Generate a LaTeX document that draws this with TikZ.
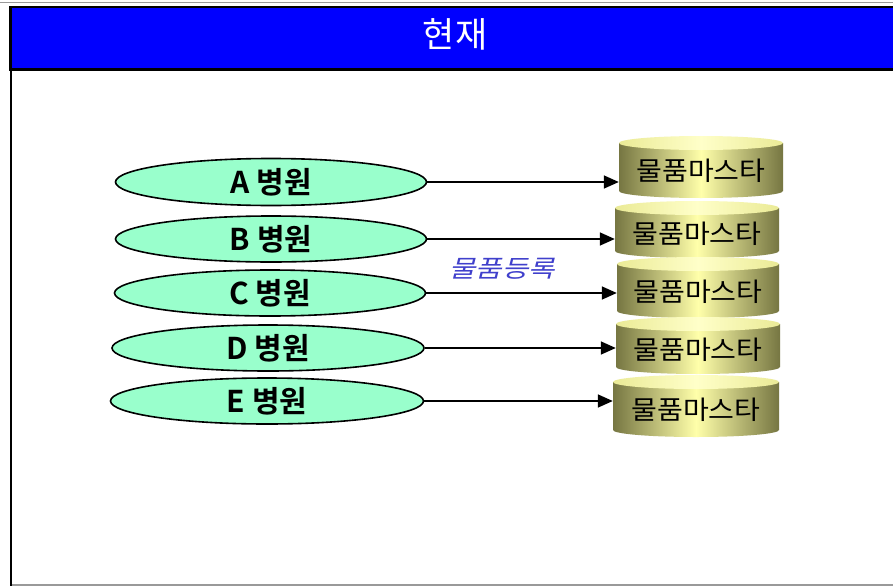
\documentclass[tikz,border=0pt]{standalone}
\usepackage{fontspec}
\setmainfont{Noto Sans CJK KR}
\newfontfamily\krfont{Noto Sans CJK KR}
\newfontfamily\krwide[FakeStretch=1.08]{Noto Sans CJK KR}
\newfontfamily\krbold{Noto Sans CJK KR Bold}
\newfontfamily\krit[FakeSlant=0.25,FakeStretch=1.2]{Noto Sans CJK KR}
\usetikzlibrary{shapes.geometric,arrows.meta}
\definecolor{titleblue}{RGB}{0,0,255}
\definecolor{mint}{RGB}{153,255,204}
\definecolor{cyldark}{RGB}{118,118,66}
\definecolor{cyllight}{RGB}{255,255,170}
\definecolor{cyltop}{RGB}{255,255,165}
\definecolor{labelblue}{RGB}{64,64,204}
\tikzset{
  hosp/.style={ellipse, draw=black, line width=1.6pt, fill=mint, inner sep=0pt,
    font=\krbold\fontsize{30}{30}\selectfont},
  conn/.style={line width=1.6pt, -{Triangle[length=15pt,width=13pt]}},
  cyltext/.style={font=\krwide\fontsize{26}{26}\selectfont, inner sep=0pt},
}
% #1 name, #2 x left, #3 y top, #4 width, #5 y bottom
\newcommand\mydbcyl[5]{%
  \pgfmathsetmacro\rr{7}%
  \shade[left color=cyldark, right color=cyldark, middle color=cyllight]
    (#2,#3+\rr) -- (#2,#5-\rr) arc[start angle=180, end angle=0, x radius=#4/2, y radius=\rr]
    -- (#2+#4,#3+\rr) -- cycle;
  \shade[left color=cyltop!85!cyldark, right color=cyltop!85!cyldark, middle color=cyltop!60!white]
    (#2+#4/2,#3+\rr) ellipse[x radius=#4/2, y radius=\rr];
  \node[cyltext, minimum width=#4, minimum height=#5-#3-2*\rr] (#1) at (#2+#4/2,{(#3+#5)/2+4}) {물품마스타};
}
\begin{document}
\begin{tikzpicture}[x=1pt,y=-1pt]
\useasboundingbox (0,0) rectangle (893,586);
\fill[white] (0,0) rectangle (893,586);
% outer frame
\draw[gray!80, line width=1pt] (0,3) -- (893,3);
\draw[gray!80, line width=1.5pt] (10,585) -- (893,585);
\draw[black, line width=2pt] (11,68) -- (11,586);
% title bar
\node[draw=black, line width=2.5pt, fill=titleblue, minimum width=900, minimum height=62, inner sep=0pt, anchor=north west] (title) at (9,6) {};
\node[text=white, font=\krfont\fontsize{35}{35}\selectfont] (ttext) at (455,34) {현재};
% hospitals
\node[hosp, minimum width=311, minimum height=47] (ha) at (271,182) {A 병원};
\node[hosp, minimum width=311, minimum height=46] (hb) at (271,239) {B 병원};
\node[hosp, minimum width=311, minimum height=46] (hc) at (270,293) {C 병원};
\node[hosp, minimum width=312, minimum height=46] (hd) at (268,348) {D 병원};
\node[hosp, minimum width=313, minimum height=46] (he) at (267,401) {E 병원};
% cylinders
\mydbcyl{ca}{619}{136}{164}{198}
\mydbcyl{cb}{615}{201}{164}{258}
\mydbcyl{cc}{617}{257}{162}{318}
\mydbcyl{cd}{616}{317}{164}{374}
\mydbcyl{ce}{613}{375}{166}{437}
% connectors
\draw[conn] (ha.east) -- (ha.east -| ca.west);
\draw[conn] (hb.east) -- (hb.east -| cb.west);
\draw[conn] (hc.east) -- (hc.east -| cc.west);
\draw[conn] (hd.east) -- (hd.east -| cd.west);
\draw[conn] (he.east) -- (he.east -| ce.west);
% label
\node[text=labelblue, font=\krit\fontsize{24}{24}\selectfont] (lbl) at (502,269) {물품등록};
\end{tikzpicture}
\end{document}
